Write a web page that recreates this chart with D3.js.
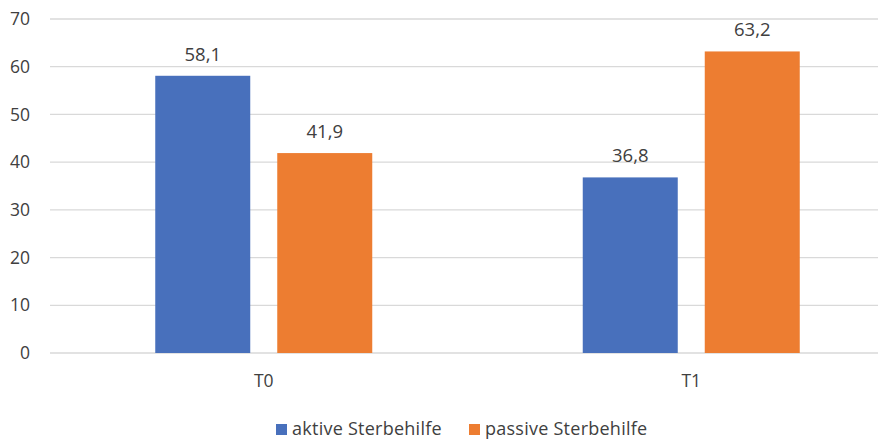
<!DOCTYPE html>
<html>
<head>
<meta charset="utf-8">
<script src="https://cdn.jsdelivr.net/npm/d3@7"></script>
<style>
  html, body { margin: 0; padding: 0; background: #fff; }
  svg text { font-family: "Open Sans", "Noto Sans", sans-serif; fill: #404040; }
</style>
</head>
<body>
<svg id="chart" width="878" height="441"></svg>
<script>
const categories = ["T0", "T1"];
const seriesNames = ["aktive Sterbehilfe", "passive Sterbehilfe"];
const aktive = [58.1, 36.8];
const passive = [41.9, 63.2];
const seriesColors = ["#4870BC", "#ED7D31"];
const yTicks = [0, 10, 20, 30, 40, 50, 60, 70];

const series = [aktive, passive];
const svg = d3.select("#chart");

const groupWidth = 217;
const x0 = d3.scaleBand().domain(categories).range([50, 905]).paddingInner(0).paddingOuter(0);
const x1 = d3.scaleBand().domain(seriesNames).range([0, groupWidth]).paddingInner(27 / 122);
const y = d3.scaleLinear().domain([0, 70]).range([353, 19]);

// horizontal gridlines
svg.append("g")
  .selectAll("line")
  .data(yTicks)
  .join("line")
  .attr("x1", 50).attr("x2", 878)
  .attr("y1", d => y(d)).attr("y2", d => y(d))
  .attr("stroke", "#d9d9d9").attr("stroke-width", 1.3);

// y-axis labels
const yAxis = d3.axisLeft(y).tickValues(yTicks).tickSize(0).tickPadding(0).tickFormat(d3.format("d"));
svg.append("g")
  .attr("transform", "translate(30,0)")
  .call(yAxis)
  .call(g => g.select(".domain").remove())
  .call(g => g.selectAll("text").attr("font-size", 17.5).attr("fill", "#595959").attr("font-family", null));

// x-axis labels
const xAxis = d3.axisBottom(x0).tickSize(0).tickPadding(0);
svg.append("g")
  .attr("transform", "translate(0,375)")
  .call(xAxis)
  .call(g => g.select(".domain").remove())
  .call(g => g.selectAll("text").attr("font-size", 17.5).attr("fill", "#595959").attr("dy", "0.71em").attr("font-family", null));

// bars
const groups = svg.append("g")
  .selectAll("g")
  .data(categories)
  .join("g")
  .attr("transform", d => `translate(${x0(d) + (x0.bandwidth() - groupWidth) / 2},0)`);

groups.selectAll("rect")
  .data((c, i) => seriesNames.map((s, j) => ({ s, v: series[j][i], color: seriesColors[j] })))
  .join("rect")
  .attr("x", d => x1(d.s))
  .attr("width", x1.bandwidth())
  .attr("y", d => y(d.v))
  .attr("height", d => y(0) - y(d.v))
  .attr("fill", d => d.color);

groups.selectAll("text.val")
  .data((c, i) => seriesNames.map((s, j) => ({ s, v: series[j][i] })))
  .join("text")
  .attr("class", "val")
  .attr("x", d => x1(d.s) + x1.bandwidth() / 2)
  .attr("y", d => y(d.v) - 15)
  .attr("text-anchor", "middle")
  .attr("font-size", 18.5)
  .text(d => d3.format(".1f")(d.v).replace(".", ","));

// legend
const legend = svg.append("g").attr("transform", "translate(0,429)");
const legendX = [276, 469];
seriesNames.forEach((name, i) => {
  legend.append("rect")
    .attr("x", legendX[i]).attr("y", -5).attr("width", 11).attr("height", 11)
    .attr("fill", seriesColors[i]);
  legend.append("text")
    .attr("x", legendX[i] + 16).attr("y", 0).attr("dy", "0.35em")
    .attr("font-size", 18).attr("fill", "#595959")
    .attr("letter-spacing", 0.25)
    .text(name);
});
</script>
</body>
</html>
